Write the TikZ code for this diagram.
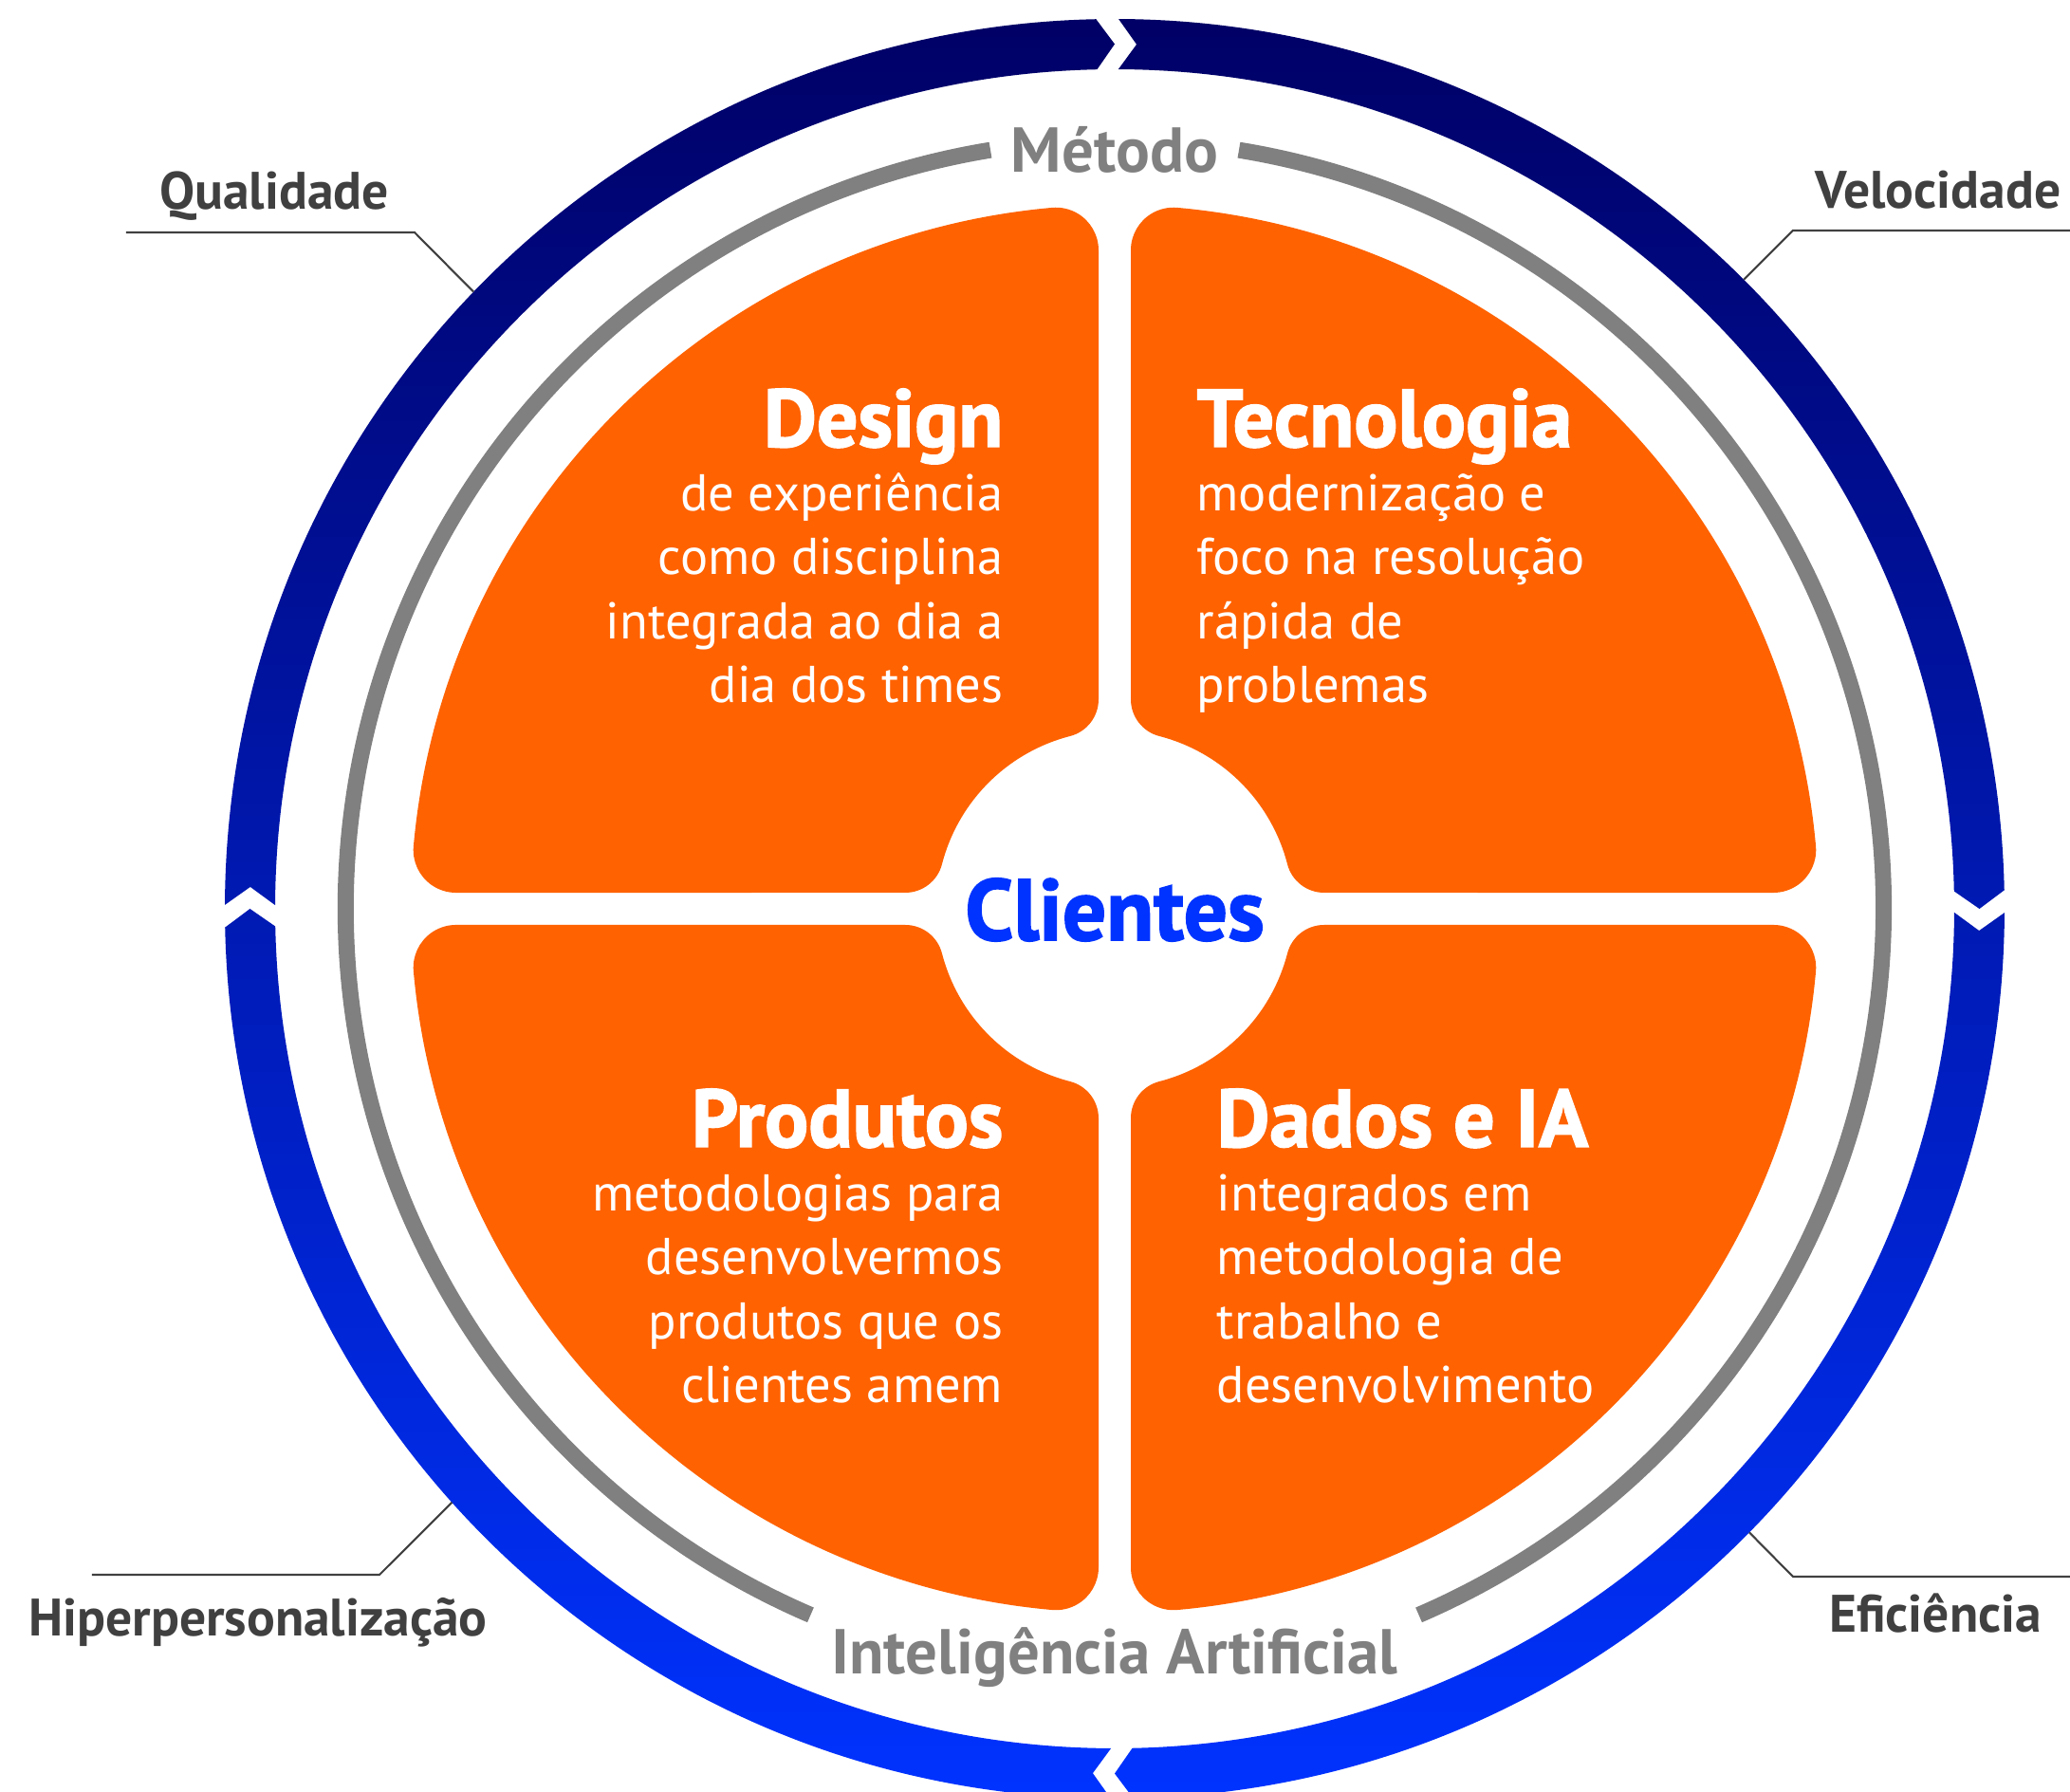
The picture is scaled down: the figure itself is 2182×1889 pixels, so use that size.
\documentclass[tikz,border=0pt]{standalone}
\usepackage{fontspec}
\setmainfont{PT Sans}
\newfontfamily\heavyfont{PT Sans Bold}[FakeBold=1.8]
\usetikzlibrary{positioning}

\definecolor{ringgray}{RGB}{128,128,128}
\definecolor{labelgray}{RGB}{64,64,64}
\definecolor{petalorange}{RGB}{255,98,0}
\definecolor{navyblue}{RGB}{0,0,102}
\definecolor{brightblue}{RGB}{0,51,255}

% one orange quarter (upper right), mirrored for the others
\newcommand{\petalpath}{(17,220.76) -- (17,694.24)
  arc[start angle=180, end angle=84.90, radius=45]
  arc[start angle=84.90, end angle=5.10, radius=742]
  arc[start angle=5.10, end angle=-90, radius=45] -- (220.76,17)
  arc[start angle=270, end angle=194.48, radius=40]
  arc[start angle=14.48, end angle=75.52, radius=188]
  arc[start angle=255.52, end angle=180, radius=40] -- cycle}
\newcommand{\headline}[1]{{\heavyfont\fontsize{24.5}{19}\selectfont #1}}

\tikzset{
  quadtext/.style={text=white, inner sep=0pt, font=\fontsize{15.5}{19.2}\selectfont},
  ringlabel/.style={text=ringgray, inner sep=0pt, font=\bfseries\fontsize{19}{21}\selectfont},
  sidelabel/.style={text=labelgray, inner sep=0pt, font=\bfseries\fontsize{15.8}{18}\selectfont},
  callout/.style={draw=labelgray, line width=0.6pt},
}

\begin{document}
\begin{tikzpicture}[x=0.01cm, y=0.01cm]
    \useasboundingbox (-1175,-931) rectangle (1007,958);
    % Gray ring, open for its two labels
    \draw[ringgray, line width=0.17cm] (80.7:810.5) arc[start angle=80.7, end angle=-66.7, radius=810.5];
    \draw[ringgray, line width=0.17cm] (-113.3:810.5) arc[start angle=-113.3, end angle=-260.7, radius=810.5];
    % Blue ring: four arrows running clockwise
    \shade[top color=navyblue, bottom color=brightblue]
        \foreach \a in {180,90,0,-90}{
            ({\a-0.25}:938) arc[start angle=\a-0.25, end angle=\a-88.8, radius=938]
            -- ({\a-90}:911.5) -- ({\a-88.8}:885)
            arc[start angle=\a-88.8, end angle=\a-0.25, radius=885]
            -- ({\a-1.45}:911.5) -- cycle
        };
    % Orange quarters
    \fill[petalorange] \petalpath;
    \begin{scope}[xscale=-1]
        \fill[petalorange] \petalpath;
    \end{scope}
    \begin{scope}[yscale=-1]
        \fill[petalorange] \petalpath;
    \end{scope}
    \begin{scope}[xscale=-1, yscale=-1]
        \fill[petalorange] \petalpath;
    \end{scope}
    % Quarter texts (anchored on their last line)
    \node[quadtext, align=right, anchor=base east] (design) at (-117,217) {\headline{Design}\\de experiência\\como disciplina\\integrada ao dia a\\dia dos times};
    \node[quadtext, align=left, anchor=base west] (tecnologia) at (86,217) {\headline{Tecnologia}\\modernização e\\foco na resolução\\rápida de\\problemas};
    \node[quadtext, align=right, anchor=base east] (produtos) at (-117,-521) {\headline{Produtos}\\metodologias para\\desenvolvermos\\produtos que os\\clientes amem};
    \node[quadtext, align=left, anchor=base west] (dados) at (107,-521) {\headline{Dados e IA}\\integrados em\\metodologia de\\trabalho e\\desenvolvimento};
    \node[text=brightblue, inner sep=0pt, font=\heavyfont\fontsize{26}{26}\selectfont, anchor=base] (clientes) at (0,-33) {Clientes};
    % Ring labels
    \node[ringlabel, anchor=base] (metodo) at (0,776) {Método};
    \node[ringlabel, anchor=base] (ia) at (0,-807) {Inteligência Artificial};
    % Side labels with their leader lines
    \node[sidelabel, anchor=base] (qualidade) at (-886,737) {Qualidade};
    \node[sidelabel, anchor=base] (velocidade) at (868,738) {Velocidade};
    \node[sidelabel, anchor=base] (eficiencia) at (865,-762) {Eficiência};
    \node[sidelabel, anchor=base] (hiper) at (-903,-767) {Hiperpersonalização};
    \coordinate (qual-ring) at (136.1:938);
    \coordinate (qual-elbow) at (-738,713);
    \coordinate (qual-end) at (-1042,713);
    \coordinate (velo-ring) at (45:938);
    \coordinate (velo-elbow) at (715,715);
    \coordinate (velo-end) at (1010,715);
    \coordinate (efic-ring) at (-44.5:938);
    \coordinate (efic-elbow) at (715,-704);
    \coordinate (efic-end) at (1010,-704);
    \coordinate (hiper-ring) at (-138.15:938);
    \coordinate (hiper-elbow) at (-775,-702);
    \coordinate (hiper-end) at (-1078,-702);
    \draw[callout] (qual-ring) -- (qual-elbow) -- (qual-end);
    \draw[callout] (velo-ring) -- (velo-elbow) -- (velo-end);
    \draw[callout] (efic-ring) -- (efic-elbow) -- (efic-end);
    \draw[callout] (hiper-ring) -- (hiper-elbow) -- (hiper-end);
\end{tikzpicture}
\end{document}
